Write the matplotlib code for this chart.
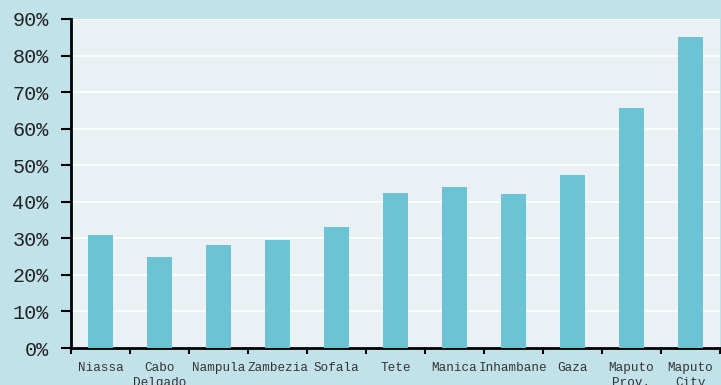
import matplotlib
matplotlib.use("Agg")
import matplotlib.pyplot as plt
import numpy as np

provinces = ["Niassa", "Cabo\nDelgado", "Nampula", "Zambezia", "Sofala", "Tete",
             "Manica", "Inhambane", "Gaza", "Maputo\nProv.", "Maputo\nCity"]
values = [31.0, 25.0, 28.2, 29.6, 33.2, 42.4, 44.0, 42.2, 47.3, 65.7, 85.1]
y_ticks = [0, 10, 20, 30, 40, 50, 60, 70, 80, 90]
y_labels = [f"{t}%" for t in y_ticks]

fig = plt.figure(figsize=(7.21, 3.85), dpi=100, facecolor="#c2e2ea")
ax = fig.add_axes([71 / 721, 1 - 348 / 385, 649 / 721, 329 / 385])
ax.set_facecolor("#e9f1f4")

x = np.arange(len(provinces))
ax.bar(x, values, width=0.41, color="#6cc3d4", zorder=3)

ax.set_xlim(-0.5, len(provinces) - 0.5)
ax.set_ylim(0, 90)
ax.set_yticks(y_ticks)
ax.set_yticklabels(y_labels, fontfamily="Liberation Mono", fontsize=14.5, color="#222222")
ax.yaxis.grid(True, color="white", linewidth=1.2, zorder=1)
ax.set_axisbelow(True)

# category labels centred on bars, tick marks on band boundaries
ax.set_xticks(x)
ax.set_xticklabels(provinces, fontfamily="Liberation Mono", fontsize=9.1,
                   color="#333333", linespacing=1.3)
ax.tick_params(axis="x", length=0, pad=10)
ax.set_xticks(np.arange(len(provinces) + 1) - 0.5, minor=True)
ax.tick_params(axis="x", which="minor", length=4, width=1.5, color="black")
ax.tick_params(axis="y", length=7, width=1.5, color="black", pad=9)

for side in ("top", "right"):
    ax.spines[side].set_visible(False)
for side in ("left", "bottom"):
    ax.spines[side].set_linewidth(2)
    ax.spines[side].set_color("black")

fig.savefig("out.png", dpi=100, facecolor=fig.get_facecolor())
